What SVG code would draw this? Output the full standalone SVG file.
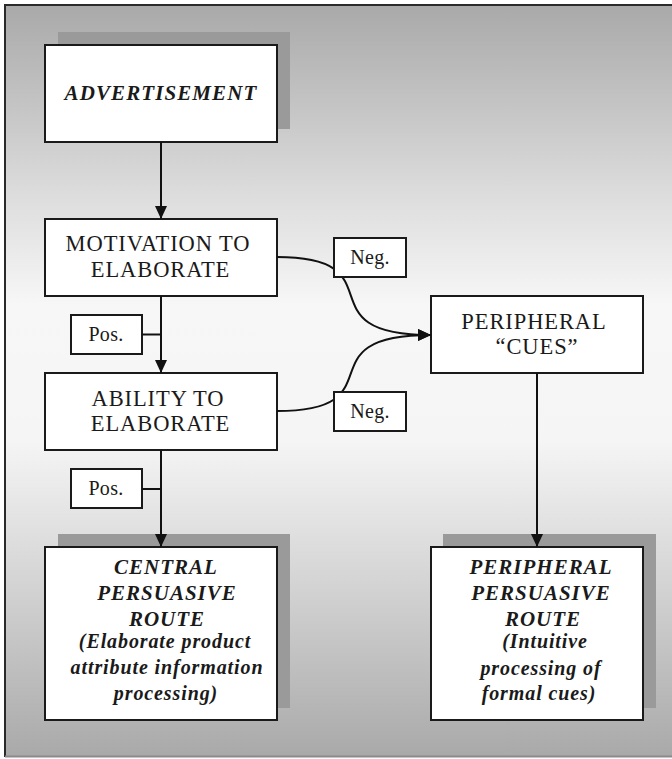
<svg xmlns="http://www.w3.org/2000/svg" width="672" height="759" viewBox="0 0 672 759">
<defs>
<linearGradient id="bg" x1="0" y1="5" x2="0" y2="756" gradientUnits="userSpaceOnUse">
<stop offset="0" stop-color="#a8a9a8"/>
<stop offset="0.25" stop-color="#dcdcdc"/>
<stop offset="0.4" stop-color="#f7f7f7"/>
<stop offset="0.58" stop-color="#f5f5f5"/>
<stop offset="0.78" stop-color="#d2d2d2"/>
<stop offset="1" stop-color="#a9a9a9"/>
</linearGradient>
<marker id="arr" markerUnits="userSpaceOnUse" viewBox="0 0 13 12" markerWidth="13" markerHeight="12" refX="13" refY="6" orient="auto">
<path d="M0,0 L13,6 L0,12 z" fill="#111"/>
</marker>
<style>
.box{fill:#fff;stroke:#1a1a1a;stroke-width:2}
.shadow{fill:#9a9a9a}
.line{fill:none;stroke:#111;stroke-width:2}
.reg{fill:#1a1a1a;text-anchor:middle}
.bi{font-weight:bold;font-style:italic;fill:#1a1a1a;text-anchor:middle}
.node{font-size:22.5px;letter-spacing:0.9px}
.lab{font-size:20px;letter-spacing:0.3px}
.cap{font-size:21px;letter-spacing:1px}
.low{font-size:20px;letter-spacing:0.9px}
</style>
</defs>
<rect x="0" y="0" width="672" height="759" fill="#fff"/>
<rect x="5" y="5" width="680" height="751" fill="url(#bg)"/>
<line x1="5" y1="5" x2="5" y2="757" stroke="#2a2a2a" stroke-width="2"/>
<line x1="4" y1="5" x2="672" y2="5" stroke="#2a2a2a" stroke-width="2"/>
<line x1="5" y1="756.5" x2="672" y2="756.5" stroke="#8a8a8a" stroke-width="2"/>

<g font-family="'Liberation Serif', 'Times New Roman', serif">
<g id="advertisement">
<rect class="shadow" x="58" y="32" width="232" height="97"/>
<rect class="box" x="45" y="45" width="232" height="97"/>
<text class="bi" x="161" y="100" font-size="21" letter-spacing="1.1">ADVERTISEMENT</text>
</g>
<g id="motivation">
<rect class="box" x="45" y="219" width="232" height="77"/>
<text class="reg node" x="158" y="251">MOTIVATION TO</text>
<text class="reg node" x="160.5" y="277">ELABORATE</text>
</g>
<g id="ability">
<rect class="box" x="45" y="373" width="232" height="77"/>
<text class="reg node" x="158" y="406">ABILITY TO</text>
<text class="reg node" x="160.5" y="431">ELABORATE</text>
</g>
<g id="peripheral-cues">
<rect class="box" x="431" y="296" width="212" height="77"/>
<text class="reg node" x="534" y="329">PERIPHERAL</text>
<text class="reg node" x="537" y="354">“CUES”</text>
</g>
<g id="central-route">
<rect class="shadow" x="58" y="534" width="232" height="174"/>
<rect class="box" x="45" y="547" width="232" height="173"/>
<text class="bi cap" x="166" y="574">CENTRAL</text>
<text class="bi cap" x="167" y="600">PERSUASIVE</text>
<text class="bi cap" x="167" y="626">ROUTE</text>
<text class="bi low" x="165" y="648">(Elaborate product</text>
<text class="bi low" x="167" y="674">attribute information</text>
<text class="bi low" x="166" y="700">processing)</text>
</g>
<g id="peripheral-route">
<rect class="shadow" x="443" y="534" width="213" height="174"/>
<rect class="box" x="431" y="547" width="212" height="173"/>
<text class="bi cap" x="541" y="574">PERIPHERAL</text>
<text class="bi cap" x="541" y="600">PERSUASIVE</text>
<text class="bi cap" x="543" y="626">ROUTE</text>
<text class="bi low" x="545" y="648">(Intuitive</text>
<text class="bi low" x="541" y="675">processing of</text>
<text class="bi low" x="539" y="700">formal cues)</text>
</g>
<g id="pos1">
<rect class="box" x="71" y="315" width="71" height="39"/>
<text class="reg lab" x="106" y="341">Pos.</text>
</g>
<g id="pos2">
<rect class="box" x="71" y="469" width="71" height="39"/>
<text class="reg lab" x="106" y="495">Pos.</text>
</g>

<g id="connectors">
<line class="line" x1="161" y1="142" x2="161" y2="219" marker-end="url(#arr)"/>
<line class="line" x1="161" y1="296" x2="161" y2="373" marker-end="url(#arr)"/>
<line class="line" x1="161" y1="450" x2="161" y2="547" marker-end="url(#arr)"/>
<line class="line" x1="537" y1="373" x2="537" y2="547" marker-end="url(#arr)"/>
<line class="line" x1="142" y1="334.5" x2="161" y2="334.5"/>
<line class="line" x1="142" y1="489" x2="161" y2="489"/>
<path class="line" d="M277,257 C400,257 300,335 431,335" marker-end="url(#arr)"/>
<path class="line" d="M277,411 C400,411 300,335 431,335" marker-end="url(#arr)"/>
</g>

<g id="neg1">
<rect class="box" x="334" y="238" width="72" height="39"/>
<text class="reg lab" x="370" y="264">Neg.</text>
</g>
<g id="neg2">
<rect class="box" x="334" y="392" width="72" height="39"/>
<text class="reg lab" x="370" y="418">Neg.</text>
</g>
</g>
</svg>
